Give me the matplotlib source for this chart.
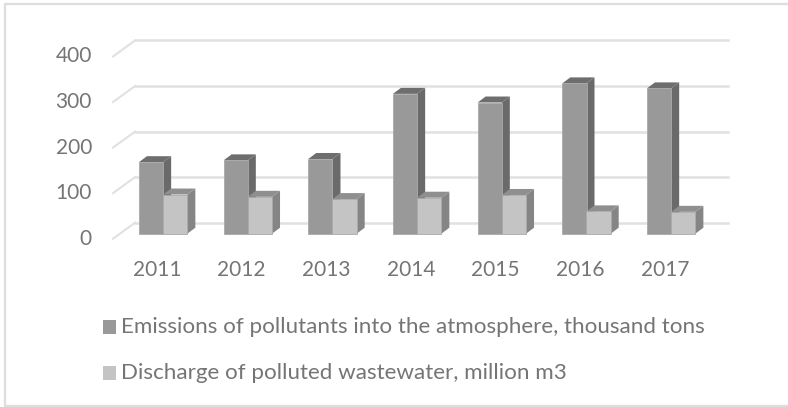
import matplotlib
matplotlib.use("Agg")
import matplotlib.pyplot as plt
from matplotlib.patches import Polygon, Rectangle

years = ["2011", "2012", "2013", "2014", "2015", "2016", "2017"]
emissions = [157, 161, 164, 307, 288, 330, 319]
discharge = [86, 81, 76, 79, 85, 49, 48]
y_ticks = [0, 100, 200, 300, 400]
emissions_label = "Emissions of pollutants into the atmosphere, thousand tons"
discharge_label = "Discharge of polluted wastewater, million m3"

# pixel layout of the 788x407 canvas
W, H = 788, 407
X0, STEP = 163.15, 84.67   # centre of first group, distance between groups
Y0, SCALE = 233.7, 0.4555  # baseline of the bars, pixels per unit
BAR_W = 24.2 / STEP
DX, DY = 8 / STEP, 6 / SCALE  # depth of each bar

plt.rcParams["font.family"] = ["Lato", "DejaVu Sans"]
TEXT = "#757575"
GRID = "#e1e1e1"

fig = plt.figure(figsize=(W / 100, H / 100), dpi=100)
ax = fig.add_axes([0, 0, 1, 1])
ax.set_xlim((0 - X0) / STEP, (W - X0) / STEP)
ax.set_ylim((Y0 - H) / SCALE, Y0 / SCALE)
ax.axis("off")


def px(x, y):
    return (x - X0) / STEP, (Y0 - y) / SCALE


# outer frame of the chart, open on the right
frame = [px(W, 4), px(5, 4), px(5, 405.5), px(W, 405.5)]
ax.plot([p[0] for p in frame], [p[1] for p in frame], color="#dedede", lw=1.7, zorder=1)

# floor and wall lines
wall = 11 / SCALE
side_left, side_right = px(135, 0)[0], px(728.3, 0)[0]
front_left = px(113, 0)[0]
for v in y_ticks:
    ax.plot([side_left, side_right], [v + wall, v + wall], color=GRID, lw=1.8, zorder=1)
    ax.plot([front_left, side_left], [v - 5 / SCALE, v + wall], color=GRID, lw=1.5, zorder=1)
    ax.text(px(92, 0)[0], v - 5 / SCALE, str(v), ha="right", va="center", fontsize=15, color=TEXT)


def bar3d(left, value, front, top, side):
    right = left + BAR_W
    ax.add_patch(Polygon([(right, 0), (right + DX, DY), (right + DX, value + DY), (right, value)],
                         fc=side, ec="none", zorder=2))
    ax.add_patch(Polygon([(left, value), (left + DX, value + DY), (right + DX, value + DY), (right, value)],
                         fc=top, ec="none", zorder=2))
    ax.bar(left, value, BAR_W, align="edge", color=front, edgecolor="#a9a9a9", linewidth=0.6, zorder=3)


for i in range(len(years)):
    bar3d(i - BAR_W, emissions[i], "#999999", "#6e6e6e", "#6a6a6a")
    bar3d(i, discharge[i], "#c4c4c4", "#8f8f8f", "#858585")
    ax.text(i - 0.075, px(0, 270)[1], years[i], ha="center", va="center", fontsize=15, color=TEXT)

# legend
for y, color, label in [(327, "#999999", emissions_label), (373, "#c4c4c4", discharge_label)]:
    x_a, y_a = px(103, y + 7)
    x_b, y_b = px(116, y - 7)
    ax.add_patch(Rectangle((x_a, y_a), x_b - x_a, y_b - y_a, fc=color, ec="none"))
    ax.text(px(121, 0)[0], px(0, y)[1], label, ha="left", va="center", fontsize=16.1, color=TEXT)

fig.savefig("out.png", dpi=100)
